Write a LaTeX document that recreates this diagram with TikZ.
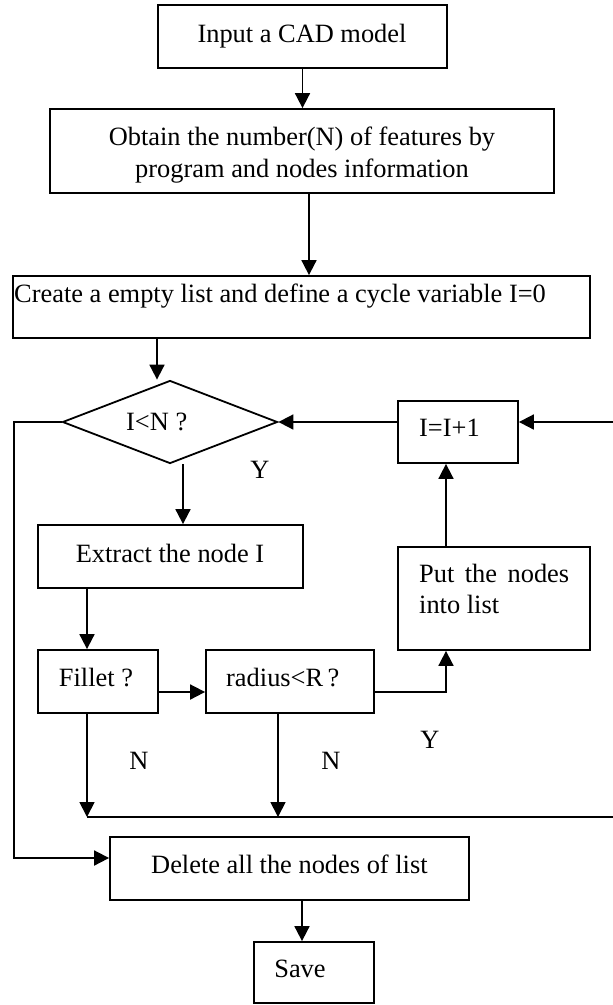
\documentclass[tikz,border=0pt]{standalone}
\usepackage{fontspec}
\setmainfont{Liberation Serif}
\usetikzlibrary{shapes.geometric,arrows.meta}
\begin{document}
\begin{tikzpicture}[x=1pt,y=-1pt,
  font=\fontsize{26.4}{32}\selectfont,
  box/.style={draw,line width=1.8pt,inner sep=0pt,rectangle},
  dia/.style={draw,line width=1.8pt,diamond,inner sep=0pt},
  txt/.style={inner sep=0pt,anchor=base},
  ltxt/.style={inner sep=0pt,anchor=base west},
  link/.style={line width=1.8pt},
  arr/.style={link,-{Triangle[length=15pt,width=15pt]}}]
\useasboundingbox (0,0) rectangle (613,1005);

% boxes
\node[box,minimum width=289pt,minimum height=63pt] (b1) at (302.5,36.5) {};
\node[box,minimum width=504pt,minimum height=84pt] (b2) at (302,151) {};
\node[box,minimum width=577pt,minimum height=62pt] (b3) at (301.5,307) {};
\node[dia,minimum width=215pt,minimum height=83pt] (d) at (170,422) {};
\node[box,minimum width=120pt,minimum height=62pt] (inc) at (458,432) {};
\node[box,minimum width=265pt,minimum height=63pt] (ext) at (170.5,556.5) {};
\node[box,minimum width=192pt,minimum height=103pt] (put) at (494,598.5) {};
\node[box,minimum width=120pt,minimum height=63pt] (fil) at (98,681.5) {};
\node[box,minimum width=168pt,minimum height=63pt] (rad) at (290,681.5) {};
\node[box,minimum width=359pt,minimum height=63pt] (del) at (289.5,868.5) {};
\node[box,minimum width=120pt,minimum height=61pt] (save) at (314,972.5) {};

% texts
\node[txt] (t1) at (302,42) {Input a CAD model};
\node[txt] (t2a) at (302,145) {Obtain the number(N) of features by};
\node[txt] (t2b) at (302,177) {program and nodes information};
\node[ltxt] (t3) at (14,302) {Create a empty list and define a cycle variable I=0};
\node[ltxt] (td) at (126,430) {I<N ?};
\node[ltxt] (tinc) at (419,436) {I=I+1};
\node[txt] (tY1) at (260,478) {Y};
\node[txt] (text) at (170,562) {Extract the node I};
\node[ltxt] (tput1) at (419,582) {\makebox[150pt][s]{Put the nodes}};
\node[ltxt] (tput2) at (419,613) {into list};
\node[txt] (tfil) at (96,686) {Fillet ?};
\node[ltxt] (trad) at (226,686) {radius<R\,?};
\node[txt] (tY2) at (430,748) {Y};
\node[txt] (tN1) at (139,769) {N};
\node[txt] (tN2) at (331,769) {N};
\node[ltxt] (tdel) at (151,873) {Delete all the nodes of list};
\node[txt] (tsave) at (300,977) {Save};

% edge coordinates
\coordinate (r1) at (613,422);
\coordinate (r2) at (613,817);
\coordinate (l1) at (14,858);

% connectors
\draw[arr] (b1.south) -- (b1.south |- b2.north);
\draw[arr] ([xshift=7pt]b2.south) -- ([xshift=7pt]b2.south |- b3.north);
\draw[arr] ([xshift=-13pt]d.north |- b3.south) -- ([xshift=-13pt]d.north);
\draw[arr] ([xshift=13pt]d.south) -- ([xshift=13pt]d.south |- ext.north);
\draw[arr] ([xshift=-11pt]fil.north |- ext.south) -- ([xshift=-11pt]fil.north);
\draw[arr] ([yshift=-10.5pt]fil.east) -- ([yshift=-10.5pt]rad.west);
\draw[arr] ([yshift=-10.5pt]rad.east) -| ([xshift=-48pt]put.south);
\draw[arr] ([xshift=-48pt]put.north) -- ([xshift=-48pt]put.north |- inc.south);
\draw[arr] (r1) -- (r1 -| inc.east);
\draw[arr] (r1 -| inc.west) -- (d.east);
\draw[arr] (d.west) -- (d.west -| l1) -- (l1) -- (l1 -| del.west);
\draw[arr] ([xshift=-11pt]fil.south) -- ([xshift=-11pt]fil.south |- r2);
\draw[arr] ([xshift=-12pt]rad.south) -- ([xshift=-12pt]rad.south |- r2);
\draw[link] ([xshift=-11pt]fil.south |- r2) -- (r2);
\draw[arr] ([xshift=12.5pt]del.south) -- ([xshift=12.5pt]del.south |- save.north);
\end{tikzpicture}
\end{document}
